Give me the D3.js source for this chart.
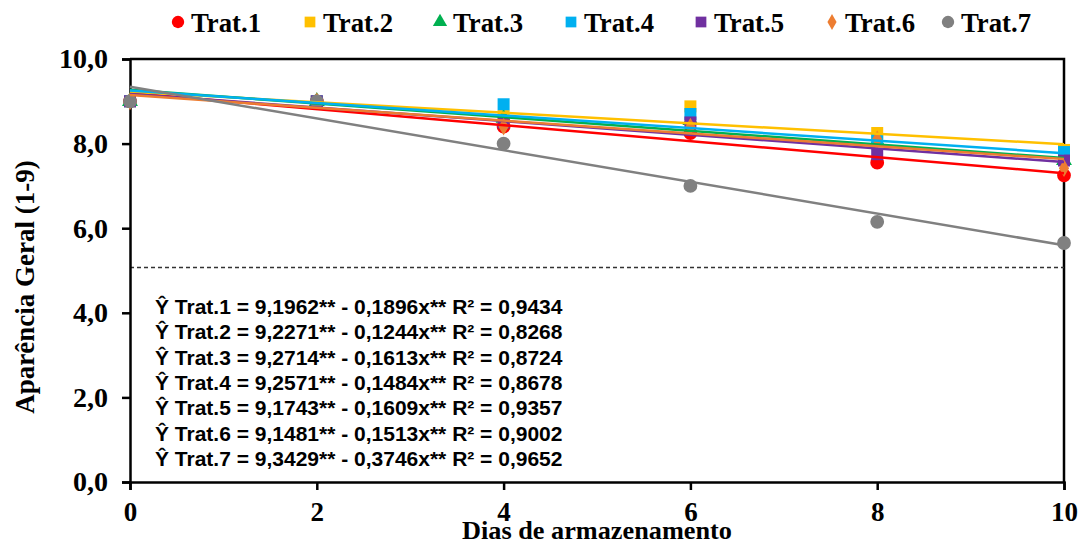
<!DOCTYPE html>
<html>
<head>
<meta charset="utf-8">
<script src="https://cdn.jsdelivr.net/npm/d3@7"></script>
<style>
  body { margin: 0; background: #fff; }
  svg { display: block; }
  .axis path, .axis line { stroke: #000; stroke-width: 2.5; }
  .axis text { font-family: "Liberation Serif", "Times New Roman", serif; font-weight: bold; font-size: 28px; fill: #000; }
  .axis.x text { font-size: 27px; }
</style>
</head>
<body>
<svg id="chart"></svg>
<script>
/* ---- data ---- */
const series = ["Trat.1", "Trat.2", "Trat.3", "Trat.4", "Trat.5", "Trat.6", "Trat.7"];
const days = [0, 2, 4, 6, 8, 10];
const trat1 = [9.0, 9.0, 8.40, 8.25, 7.55, 7.25];
const trat2 = [9.0, 9.0, 8.65, 8.88, 8.25, 7.85];
const trat3 = [9.0, 9.0, 8.60, 8.55, 8.05, 7.60];
const trat4 = [9.0, 9.0, 8.93, 8.70, 8.10, 7.80];
const trat5 = [9.0, 9.0, 8.50, 8.50, 7.75, 7.60];
const trat6 = [9.0, 9.0, 8.40, 8.40, 8.10, 7.42];
const trat7 = [9.0, 9.0, 8.00, 7.00, 6.15, 5.65];
const intercepts = [9.1962, 9.2271, 9.2714, 9.2571, 9.1743, 9.1481, 9.3429];
const slopes = [-0.1896, -0.1244, -0.1613, -0.1484, -0.1609, -0.1513, -0.3746];
const r2 = ["0,9434", "0,8268", "0,8724", "0,8678", "0,9357", "0,9002", "0,9652"];
const limitLine = 5.07;
const xTicks = [0, 2, 4, 6, 8, 10];
const yTicks = [0, 2, 4, 6, 8, 10];

const values = [trat1, trat2, trat3, trat4, trat5, trat6, trat7];
const colors = ["#FF0000", "#FFC000", "#00B050", "#00B0F0", "#7030A0", "#ED7D31", "#808080"];
const shapes = [d3.symbolCircle, d3.symbolSquare, d3.symbolTriangle, d3.symbolSquare,
                d3.symbolSquare, d3.symbolDiamond, d3.symbolCircle];
const sizes = [150, 144, 110, 144, 144, 90, 150];

const W = 1081, H = 544;
const plotL = 130, plotR = 1064, plotT = 59, plotB = 482;
const serif = "'Liberation Serif', 'Times New Roman', serif";

const svg = d3.select("#chart").attr("width", W).attr("height", H);

const x = d3.scaleLinear().domain([0, 10]).range([plotL, plotR]);
const y = d3.scaleLinear().domain([0, 10]).range([plotB, plotT]);
const comma = v => d3.format(".1f")(v).replace(".", ",");

// frame (top + right)
svg.append("path")
    .attr("d", `M${plotL},${plotT}H${plotR}V${plotB}`)
    .attr("fill", "none").attr("stroke", "#000").attr("stroke-width", 2.5);

// limit line
svg.append("line")
    .attr("x1", x(0)).attr("x2", x(10))
    .attr("y1", y(limitLine)).attr("y2", y(limitLine))
    .attr("stroke", "#333").attr("stroke-width", 1.5)
    .attr("stroke-dasharray", "4,3");

// axes
svg.append("g").attr("class", "axis y")
    .attr("transform", `translate(${plotL},0)`)
    .call(d3.axisLeft(y).tickValues(yTicks).tickFormat(comma).tickSizeOuter(0).tickSize(8).tickPadding(14));

svg.append("g").attr("class", "axis x")
    .attr("transform", `translate(0,${plotB})`)
    .call(d3.axisBottom(x).tickValues(xTicks).tickFormat(d3.format("d")).tickSizeOuter(0).tickSize(8).tickPadding(12));

// markers
series.forEach((s, i) => {
    svg.append("g").selectAll("path")
        .data(days.map((d, j) => [d, values[i][j]]))
        .join("path")
        .attr("transform", d => `translate(${x(d[0])},${y(d[1])})`)
        .attr("d", d3.symbol().type(shapes[i]).size(sizes[i]))
        .attr("fill", colors[i]);
});

// trend lines from the fitted equations
series.forEach((s, i) => {
    const line = d3.line().x(d => x(d)).y(d => y(intercepts[i] + slopes[i] * d));
    svg.append("path")
        .datum([0, 10])
        .attr("d", line)
        .attr("fill", "none")
        .attr("stroke", colors[i])
        .attr("stroke-width", 2.5);
});

// equations
const eq = svg.append("g")
    .attr("font-family", "'Liberation Sans', Arial, sans-serif")
    .attr("font-weight", "bold")
    .attr("font-size", "21px");
series.forEach((s, i) => {
    const a = intercepts[i].toFixed(4).replace(".", ",");
    const b = Math.abs(slopes[i]).toFixed(4).replace(".", ",");
    eq.append("text")
        .attr("x", 155)
        .attr("y", 314 + i * 25.3)
        .text(`Ŷ ${s} = ${a}** - ${b}x** R² = ${r2[i]}`);
});

// legend
const legendX = [178, 310, 440, 571, 701, 832, 948];
const legend = svg.append("g");
series.forEach((s, i) => {
    legend.append("path")
        .attr("transform", `translate(${legendX[i]},22)`)
        .attr("d", d3.symbol().type(shapes[i]).size(sizes[i] * 0.8))
        .attr("fill", colors[i]);
    legend.append("text")
        .attr("x", legendX[i] + 13)
        .attr("y", 32)
        .attr("font-family", serif)
        .attr("font-weight", "bold")
        .attr("font-size", "28px")
        .attr("textLength", 70)
        .attr("lengthAdjust", "spacingAndGlyphs")
        .text(s);
});

// axis titles
svg.append("text")
    .attr("x", 597).attr("y", 539)
    .attr("text-anchor", "middle")
    .attr("font-family", serif)
    .attr("font-weight", "bold").attr("font-size", "25px")
    .attr("textLength", 270)
    .attr("lengthAdjust", "spacingAndGlyphs")
    .text("Dias de armazenamento");

svg.append("text")
    .attr("transform", "translate(34,287) rotate(-90)")
    .attr("text-anchor", "middle")
    .attr("font-family", serif)
    .attr("font-weight", "bold").attr("font-size", "27px")
    .text("Aparência Geral (1-9)");
</script>
</body>
</html>
